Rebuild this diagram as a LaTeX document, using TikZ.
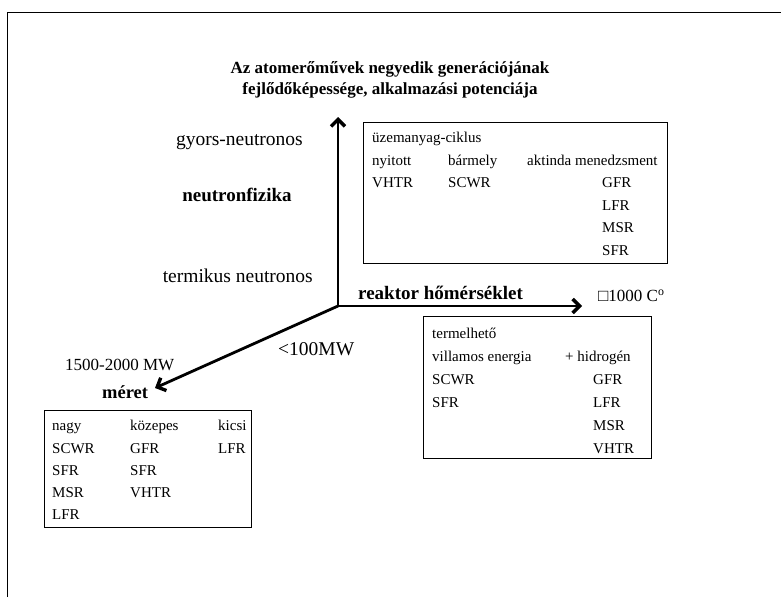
\documentclass[tikz,border=0pt]{standalone}
\usepackage{fontspec}
\setmainfont{Liberation Serif}
\usetikzlibrary{arrows.meta}
\begin{document}
\begin{tikzpicture}[x=1pt,y=-1pt,
  frame/.style={draw, line width=1pt, inner sep=0pt, anchor=north west},
  bt/.style={anchor=base west, inner sep=0pt, font=\fontsize{15}{18}\selectfont},
  lbl/.style={inner sep=0pt, font=\fontsize{19.5}{23}\selectfont},
  blbl/.style={inner sep=0pt, font=\fontsize{19}{23}\selectfont\bfseries},
  axis/.style={line width=2.8pt, -{Straight Barb[length=7pt,width=14pt,line width=3.4pt]}}]
\useasboundingbox (0,0) rectangle (781,597);
% outer border
\draw[line width=1pt] (7,597) -- (7,12) -- (781,12);
% title
\node[align=center, inner sep=0pt, font=\fontsize{17}{21}\selectfont\bfseries] (title) at (390,80)
  {Az atomerőművek negyedik generációjának\\fejlődőképessége, alkalmazási potenciája};
% axes
\coordinate (O) at (338,306);
\coordinate (up) at (338,117);
\coordinate (right) at (582,306);
\coordinate (diag) at (155,388);
\draw[axis] (O) -- (up);
\draw[axis] (O) -- (right);
\draw[axis] (O) -- (diag);
% axis labels
\node[lbl, anchor=east] (fast) at (303,142) {gyors-neutronos};
\node[blbl] (neutron) at (237,195) {neutronfizika};
\node[lbl, anchor=east] (thermal) at (313,276) {termikus neutronos};
\node[blbl, anchor=west] (temp) at (358,293) {reaktor hőmérséklet};
\node[lbl, anchor=west, font=\fontsize{17}{20}\selectfont] (t1000) at (598,296) {□1000 C\textsuperscript{o}};
\node[lbl, anchor=west] (small) at (278,349) {<100MW};
\node[lbl, anchor=west, font=\fontsize{17}{20}\selectfont] (big) at (65,365) {1500-2000 MW};
\node[blbl, anchor=west, font=\fontsize{18.5}{22}\selectfont\bfseries] (size) at (102,392) {méret};
% fuel cycle box
\node[frame, minimum width=304pt, minimum height=141pt] (fuelbox) at (363,122) {};
\node[bt] (f0) at (372,142) {üzemanyag-ciklus};
\node[bt] (f1) at (372,165) {nyitott};
\node[bt] (f2) at (448,165) {bármely};
\node[bt] (f3) at (527,165) {aktinda menedzsment};
\node[bt] (f4) at (372,187) {VHTR};
\node[bt] (f5) at (448,187) {SCWR};
\node[bt] (f6) at (602,187) {GFR};
\node[bt] (f7) at (602,210) {LFR};
\node[bt] (f8) at (602,232) {MSR};
\node[bt] (f9) at (602,255) {SFR};
% energy box
\node[frame, minimum width=228pt, minimum height=142pt] (enbox) at (423,316) {};
\node[bt] (e0) at (432,338) {termelhető};
\node[bt] (e1) at (432,361) {villamos energia};
\node[bt] (e2) at (565,361) {+ hidrogén};
\node[bt] (e3) at (432,384) {SCWR};
\node[bt] (e4) at (593,384) {GFR};
\node[bt] (e5) at (432,407) {SFR};
\node[bt] (e6) at (593,407) {LFR};
\node[bt] (e7) at (593,430) {MSR};
\node[bt] (e8) at (593,453) {VHTR};
% size box
\node[frame, minimum width=207pt, minimum height=117pt] (sizebox) at (44,410) {};
\node[bt] (s0) at (52,430) {nagy};
\node[bt] (s1) at (130,430) {közepes};
\node[bt] (s2) at (218,430) {kicsi};
\node[bt] (s3) at (52,453) {SCWR};
\node[bt] (s4) at (130,453) {GFR};
\node[bt] (s5) at (218,453) {LFR};
\node[bt] (s6) at (52,475) {SFR};
\node[bt] (s7) at (130,475) {SFR};
\node[bt] (s8) at (52,497) {MSR};
\node[bt] (s9) at (130,497) {VHTR};
\node[bt] (s10) at (52,519) {LFR};
\end{tikzpicture}
\end{document}
